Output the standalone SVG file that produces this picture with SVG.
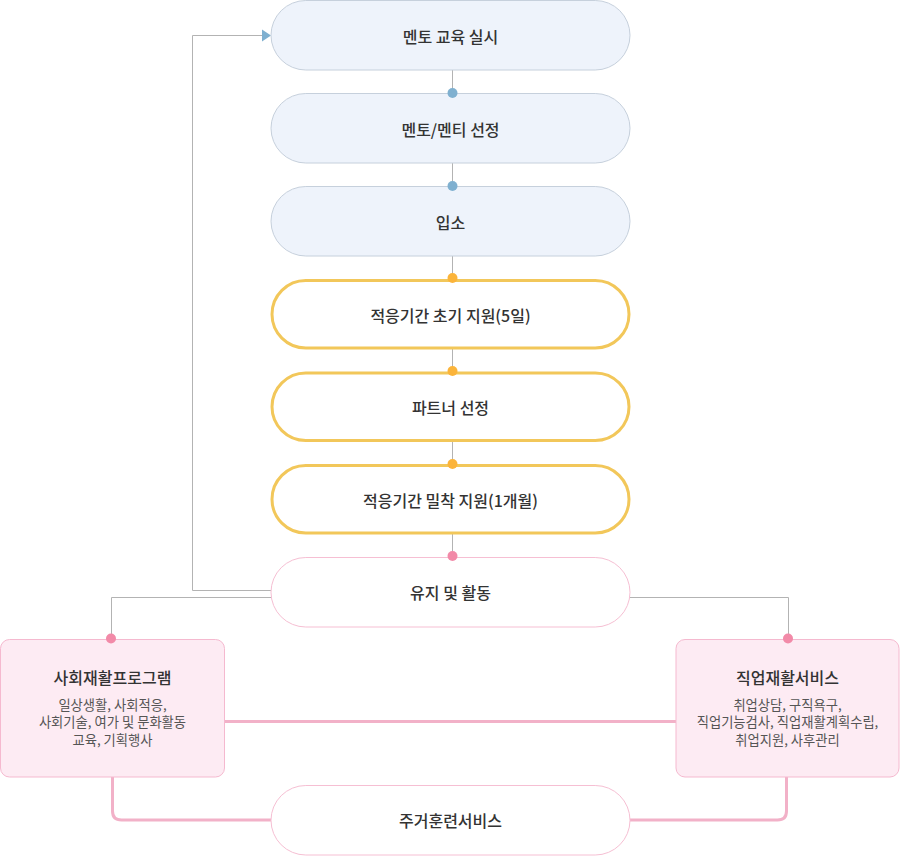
<svg xmlns="http://www.w3.org/2000/svg" width="900" height="858" viewBox="0 0 900 858">
<style>
text{font-family:"Noto Sans CJK KR","Noto Sans",sans-serif;text-anchor:middle;dominant-baseline:central}
.t{font-size:16px;font-weight:500;fill:#333}
.h{font-size:16px;font-weight:500;fill:#333}
.s{font-size:13.3px;fill:#555}
.blue{fill:#eef3fb;stroke:#c6d0dc;stroke-width:1}
.yel{fill:#fff;stroke:#f2c75a;stroke-width:3}
.pink{fill:#fff;stroke:#f6bfd3;stroke-width:1}
.box{fill:#fdebf3;stroke:#f5b9cf;stroke-width:1}
.g{fill:none;stroke:#b3b3b3;stroke-width:1}
.p{fill:none;stroke:#f2b1c8;stroke-width:3}
.db{fill:#7fb0d0}.dy{fill:#fbb43a}.dp{fill:#f28aa8}
</style>
<g id="connectors">
<line class="g" x1="452.5" y1="70" x2="452.5" y2="94"/>
<line class="g" x1="452.5" y1="163" x2="452.5" y2="187"/>
<line class="g" x1="452.5" y1="256" x2="452.5" y2="280"/>
<line class="g" x1="452.5" y1="349" x2="452.5" y2="372"/>
<line class="g" x1="452.5" y1="441" x2="452.5" y2="465"/>
<line class="g" x1="452.5" y1="534" x2="452.5" y2="557"/>
<polyline class="g" points="271,590.5 192.5,590.5 192.5,35.5 263,35.5"/>
<polygon points="262,29.5 271,35.5 262,41.5" fill="#7fb0d0"/>
<polyline class="g" points="271,597.5 111.5,597.5 111.5,639"/>
<polyline class="g" points="630,597.5 788.5,597.5 788.5,639"/>
<line class="p" x1="224" y1="721.5" x2="676" y2="721.5"/>
<path class="p" d="M112.5,777 V811 Q112.5,820 121.5,820 H271"/>
<path class="p" d="M786.5,777 V811 Q786.5,820 777.5,820 H630"/>
</g>
<g id="n1"><rect class="blue" x="271" y="0.5" width="359" height="69.5" rx="34.75"/><text class="t" x="450.5" y="36">멘토 교육 실시</text></g>
<g id="n2"><rect class="blue" x="271" y="93.5" width="359" height="69.5" rx="34.75"/><text class="t" x="450.5" y="129">멘토/멘티 선정</text></g>
<g id="n3"><rect class="blue" x="271" y="186.5" width="359" height="69.5" rx="34.75"/><text class="t" x="450.5" y="222">입소</text></g>
<g id="n4"><rect class="yel" x="272" y="280.5" width="357" height="67.5" rx="33.75"/><text class="t" x="450.5" y="315">적응기간 초기 지원(5일)</text></g>
<g id="n5"><rect class="yel" x="272" y="373" width="357" height="67.5" rx="33.75"/><text class="t" x="450.5" y="407">파트너 선정</text></g>
<g id="n6"><rect class="yel" x="272" y="465.5" width="357" height="67.5" rx="33.75"/><text class="t" x="450.5" y="499.5">적응기간 밀착 지원(1개월)</text></g>
<g id="n7"><rect class="pink" x="271" y="557.5" width="359" height="69.5" rx="34.75"/><text class="t" x="450.5" y="592">유지 및 활동</text></g>
<g id="n8"><rect class="box" x="0.5" y="639.5" width="224" height="137.5" rx="9"/>
<text class="h" x="112.5" y="677">사회재활프로그램</text>
<text class="s" x="112.5" y="704">일상생활, 사회적응,</text>
<text class="s" x="112.5" y="721.5">사회기술, 여가 및 문화활동</text>
<text class="s" x="112.5" y="739">교육, 기획행사</text></g>
<g id="n9"><rect class="box" x="676" y="639.5" width="223" height="137.5" rx="9"/>
<text class="h" x="787.5" y="677">직업재활서비스</text>
<text class="s" x="787.5" y="704">취업상담, 구직욕구,</text>
<text class="s" x="787.5" y="721.5">직업기능검사, 직업재활계획수립,</text>
<text class="s" x="787.5" y="739">취업지원, 사후관리</text></g>
<g id="n10"><rect class="pink" x="271" y="785.5" width="359" height="69.5" rx="34.75"/><text class="t" x="450.5" y="820">주거훈련서비스</text></g>
<g id="dots">
<circle class="db" cx="452.5" cy="93" r="5"/>
<circle class="db" cx="452.5" cy="186" r="5"/>
<circle class="dy" cx="452.5" cy="278" r="5"/>
<circle class="dy" cx="452.5" cy="371" r="5"/>
<circle class="dy" cx="452.5" cy="464" r="5"/>
<circle class="dp" cx="452.5" cy="556" r="5"/>
<circle class="dp" cx="111" cy="638.5" r="5"/>
<circle class="dp" cx="788" cy="638.5" r="5"/>
</g>
</svg>
